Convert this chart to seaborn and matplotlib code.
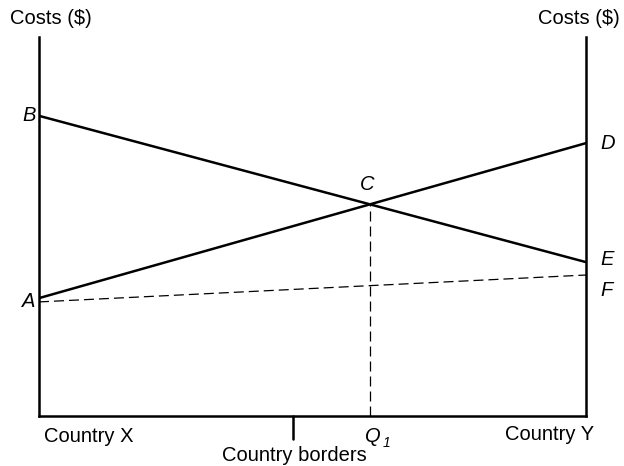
import matplotlib
matplotlib.use("Agg")
import matplotlib.pyplot as plt
import pandas as pd
import seaborn as sns

# distance between country X (0) and country Y (100)
ends = [0, 100]
border = 46.4

# costs at each end
cost_from_x = [79.2, 40.6]   # B -> E
cost_from_y = [31.1, 72.0]   # A -> D
cost_lower = [30.1, 37.2]    # A -> F (dashed)

sns.set_style("white")
plt.rcParams['font.family'] = ['Liberation Sans', 'DejaVu Sans']
plt.rcParams['text.color'] = 'black'

fig = plt.figure(figsize=(6.24, 4.66), dpi=100)
ax = fig.add_axes([39 / 624, 50 / 466, 547 / 624, 379 / 466])

df = pd.DataFrame({"x": ends * 3,
                   "cost": cost_from_x + cost_from_y + cost_lower,
                   "line": ["BE"] * 2 + ["AD"] * 2 + ["AF"] * 2})

sns.lineplot(data=df[df.line == "BE"], x="x", y="cost", color="black", lw=1.8, ax=ax)
sns.lineplot(data=df[df.line == "AD"], x="x", y="cost", color="black", lw=1.8, ax=ax)
sns.lineplot(data=df[df.line == "AF"], x="x", y="cost", color="black", lw=0.9,
             ax=ax, linestyle=(0, (8, 4)))

# intersection C
s1 = (cost_from_x[1] - cost_from_x[0]) / 100
s2 = (cost_from_y[1] - cost_from_y[0]) / 100
qx = (cost_from_y[0] - cost_from_x[0]) / (s1 - s2)
qy = cost_from_x[0] + s1 * qx
ax.plot([qx, qx], [0, qy], color="black", lw=0.9, linestyle=(0, (8, 4)))

ax.set_xlim(0, 100)
ax.set_ylim(0, 100)
ax.set_xlabel("")
ax.set_ylabel("")
ax.set_xticks([])
ax.set_yticks([])
for side in ["left", "right", "bottom"]:
    ax.spines[side].set_linewidth(1.8)
    ax.spines[side].set_color("black")
ax.spines["top"].set_visible(False)

# border tick
ax.plot([border, border], [0, -6], color="black", lw=1.8, clip_on=False)

fs = 14.5
kw = dict(fontsize=fs, va="center", clip_on=False)
ax.text(-5.3, 105, "Costs ($)", ha="left", **kw)
ax.text(106.2, 105, "Costs ($)", ha="right", **kw)
ax.text(-0.6, cost_from_x[0], "B", style="italic", ha="right", **kw)
ax.text(-0.6, cost_lower[0], "A", style="italic", ha="right", **kw)
ax.text(102.6, cost_from_y[1], "D", style="italic", ha="left", **kw)
ax.text(102.6, cost_from_x[1] + 0.8, "E", style="italic", ha="left", **kw)
ax.text(102.6, cost_lower[1] - 4.0, "F", style="italic", ha="left", **kw)
ax.text(qx - 0.6, qy + 5.3, "C", style="italic", ha="center", **kw)
ax.text(qx - 0.9, -5.5, "Q", style="italic", ha="left", **kw)
ax.text(qx + 2.3, -7.0, "1", fontsize=10, style="italic", ha="left", va="center")
ax.text(0.9, -5.5, "Country X", ha="left", **kw)
ax.text(101.5, -4.75, "Country Y", ha="right", **kw)
ax.text(border + 0.3, -10.3, "Country borders", ha="center", **kw)

fig.savefig("out.png", dpi=100)
